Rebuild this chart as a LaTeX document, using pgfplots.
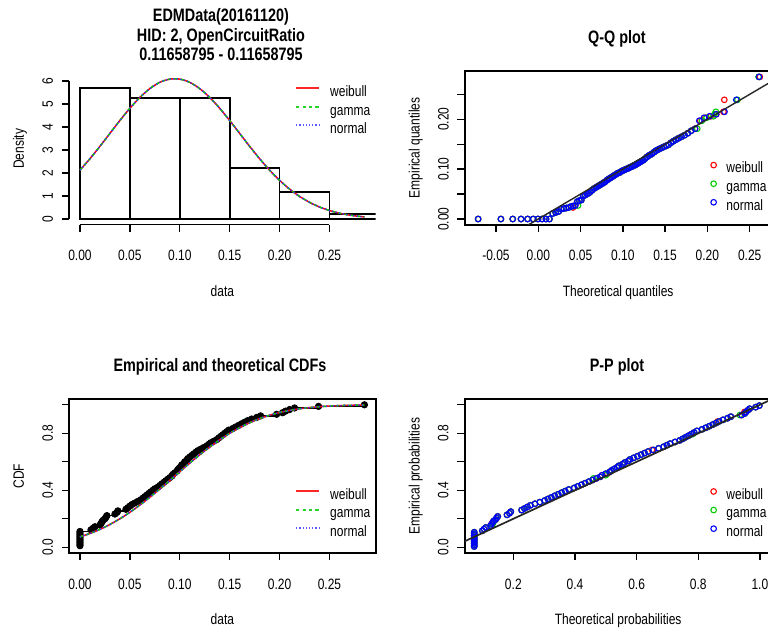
\documentclass[border=0pt]{standalone}
\usepackage{fontspec}
\setmainfont{Liberation Sans}[FakeStretch=0.8]
\usepackage{pgfplots}
\usepackage{pgfplotstable}
\pgfplotsset{compat=1.18}

\definecolor{rred}{HTML}{FF0000}
\definecolor{rgreen}{HTML}{00CD00}
\definecolor{rblue}{HTML}{0000FF}

% sorted sample, ECDF, plotting positions, theoretical quantiles and probabilities
\pgfplotstableread{
i x ecdf pe qn qw qg pp ppw ppg
1 0 0.0111 0.0056 -0.0711 -0.0711 -0.0711 0.0732 0.0732 0.0732
2 0 0.0222 0.0167 -0.0442 -0.0442 -0.0442 0.0732 0.0732 0.0732
3 0 0.0333 0.0278 -0.0302 -0.0302 -0.0302 0.0732 0.0732 0.0732
4 0 0.0444 0.0389 -0.0204 -0.0204 -0.0204 0.0732 0.0732 0.0732
5 0 0.0556 0.0500 -0.0126 -0.0126 -0.0126 0.0732 0.0732 0.0732
6 0 0.0667 0.0611 -0.0060 -0.0060 -0.0060 0.0732 0.0732 0.0732
7 0 0.0778 0.0722 -0.0004 -0.0004 -0.0004 0.0732 0.0732 0.0732
8 0 0.0889 0.0833 0.0046 0.0046 0.0046 0.0732 0.0732 0.0732
9 0 0.1000 0.0944 0.0091 0.0091 0.0091 0.0732 0.0732 0.0732
10 0 0.1111 0.1056 0.0132 0.0132 0.0132 0.0732 0.0732 0.0732
11 0.011 0.1222 0.1167 0.0170 0.0170 0.0170 0.0995 0.0995 0.0995
12 0.013 0.1333 0.1278 0.0206 0.0206 0.0206 0.1050 0.1050 0.1050
13 0.015 0.1444 0.1389 0.0240 0.0240 0.0240 0.1106 0.1106 0.1106
14 0.020 0.1556 0.1500 0.0272 0.0272 0.0272 0.1257 0.1257 0.1290
15 0.021 0.1667 0.1611 0.0303 0.0303 0.0303 0.1289 0.1289 0.1320
16 0.022 0.1778 0.1722 0.0331 0.0331 0.0331 0.1322 0.1322 0.1350
17 0.023 0.1889 0.1833 0.0359 0.0410 0.0359 0.1355 0.1355 0.1355
18 0.025 0.2000 0.1944 0.0386 0.0386 0.0386 0.1422 0.1422 0.1422
19 0.026 0.2111 0.2056 0.0412 0.0412 0.0412 0.1457 0.1457 0.1457
20 0.027 0.2222 0.2167 0.0437 0.0437 0.0470 0.1492 0.1492 0.1492
21 0.035 0.2333 0.2278 0.0462 0.0462 0.0462 0.1795 0.1795 0.1795
22 0.037 0.2444 0.2389 0.0486 0.0486 0.0486 0.1876 0.1876 0.1876
23 0.038 0.2556 0.2500 0.0509 0.0509 0.0509 0.1917 0.1917 0.1917
24 0.046 0.2667 0.2611 0.0531 0.0531 0.0531 0.2269 0.2269 0.2269
25 0.048 0.2778 0.2722 0.0554 0.0554 0.0554 0.2362 0.2362 0.2362
26 0.050 0.2889 0.2833 0.0575 0.0575 0.0575 0.2457 0.2457 0.2457
27 0.052 0.3000 0.2944 0.0596 0.0596 0.0596 0.2554 0.2554 0.2554
28 0.055 0.3111 0.3056 0.0618 0.0618 0.0618 0.2704 0.2704 0.2704
29 0.058 0.3222 0.3167 0.0638 0.0638 0.0638 0.2858 0.2858 0.2858
30 0.061 0.3333 0.3278 0.0658 0.0658 0.0658 0.3016 0.3016 0.3016
31 0.063 0.3444 0.3389 0.0679 0.0679 0.0679 0.3123 0.3123 0.3123
32 0.065 0.3556 0.3500 0.0698 0.0698 0.0698 0.3232 0.3232 0.3232
33 0.067 0.3667 0.3611 0.0718 0.0718 0.0718 0.3343 0.3343 0.3343
34 0.069 0.3778 0.3722 0.0737 0.0737 0.0737 0.3455 0.3455 0.3455
35 0.071 0.3889 0.3833 0.0756 0.0756 0.0756 0.3568 0.3568 0.3568
36 0.073 0.4000 0.3944 0.0775 0.0775 0.0775 0.3683 0.3683 0.3683
37 0.075 0.4111 0.4056 0.0793 0.0793 0.0793 0.3799 0.3799 0.3799
38 0.078 0.4222 0.4167 0.0813 0.0813 0.0813 0.3975 0.3975 0.3975
39 0.080 0.4333 0.4278 0.0831 0.0831 0.0831 0.4093 0.4093 0.4093
40 0.082 0.4444 0.4389 0.0849 0.0849 0.0849 0.4212 0.4212 0.4212
41 0.084 0.4556 0.4500 0.0868 0.0868 0.0868 0.4332 0.4332 0.4332
42 0.086 0.4667 0.4611 0.0886 0.0886 0.0886 0.4453 0.4453 0.4453
43 0.088 0.4778 0.4722 0.0904 0.0904 0.0904 0.4574 0.4574 0.4574
44 0.090 0.4889 0.4833 0.0923 0.0923 0.0923 0.4695 0.4695 0.4600
45 0.092 0.5000 0.4944 0.0941 0.0941 0.0941 0.4817 0.4817 0.4817
46 0.093 0.5111 0.5056 0.0959 0.0959 0.0959 0.4878 0.4878 0.5000
47 0.095 0.5222 0.5167 0.0977 0.0977 0.0977 0.5000 0.5050 0.5000
48 0.097 0.5333 0.5278 0.0996 0.0996 0.0996 0.5122 0.5122 0.5122
49 0.098 0.5444 0.5389 0.1014 0.1014 0.1014 0.5183 0.5183 0.5183
50 0.0995 0.5556 0.5500 0.1032 0.1032 0.1032 0.5274 0.5274 0.5274
51 0.101 0.5667 0.5611 0.1051 0.1051 0.1051 0.5365 0.5365 0.5365
52 0.102 0.5778 0.5722 0.1069 0.1069 0.1069 0.5426 0.5426 0.5426
53 0.104 0.5889 0.5833 0.1087 0.1087 0.1087 0.5547 0.5547 0.5547
54 0.105 0.6000 0.5944 0.1107 0.1107 0.1107 0.5608 0.5608 0.5608
55 0.107 0.6111 0.6056 0.1125 0.1125 0.1125 0.5728 0.5728 0.5728
56 0.108 0.6222 0.6167 0.1144 0.1144 0.1144 0.5788 0.5788 0.5788
57 0.110 0.6333 0.6278 0.1163 0.1163 0.1163 0.5907 0.5907 0.5907
58 0.112 0.6444 0.6389 0.1182 0.1182 0.1182 0.6025 0.6025 0.6025
59 0.114 0.6556 0.6500 0.1202 0.1202 0.1202 0.6143 0.6143 0.6143
60 0.116 0.6667 0.6611 0.1221 0.1221 0.1221 0.6259 0.6259 0.6259
61 0.118 0.6778 0.6722 0.1242 0.1242 0.1242 0.6375 0.6375 0.6375
62 0.121 0.6889 0.6833 0.1262 0.1262 0.1262 0.6545 0.6500 0.6545
63 0.124 0.7000 0.6944 0.1282 0.1282 0.1282 0.6713 0.6713 0.6713
64 0.127 0.7111 0.7056 0.1304 0.1304 0.1304 0.6877 0.6877 0.6877
65 0.129 0.7222 0.7167 0.1325 0.1325 0.1325 0.6984 0.6984 0.6984
66 0.131 0.7333 0.7278 0.1346 0.1346 0.1346 0.7090 0.7090 0.7090
67 0.134 0.7444 0.7389 0.1369 0.1369 0.1369 0.7245 0.7245 0.7245
68 0.137 0.7556 0.7500 0.1391 0.1391 0.1391 0.7396 0.7396 0.7396
69 0.139 0.7667 0.7611 0.1414 0.1414 0.1414 0.7495 0.7495 0.7495
70 0.141 0.7778 0.7722 0.1438 0.1438 0.1438 0.7591 0.7591 0.7591
71 0.143 0.7889 0.7833 0.1463 0.1463 0.1463 0.7685 0.7685 0.7685
72 0.145 0.8000 0.7944 0.1488 0.1488 0.1488 0.7777 0.7777 0.7820
73 0.147 0.8111 0.8056 0.1514 0.1514 0.1514 0.7867 0.7867 0.7867
74 0.149 0.8222 0.8167 0.1541 0.1541 0.1541 0.7955 0.7955 0.7955
75 0.153 0.8333 0.8278 0.1569 0.1569 0.1569 0.8124 0.8124 0.8124
76 0.156 0.8444 0.8389 0.1597 0.1597 0.1597 0.8245 0.8245 0.8245
77 0.159 0.8556 0.8500 0.1628 0.1628 0.1628 0.8361 0.8361 0.8361
78 0.162 0.8667 0.8611 0.1660 0.1660 0.1660 0.8472 0.8472 0.8472
79 0.165 0.8778 0.8722 0.1694 0.1694 0.1694 0.8578 0.8578 0.8578
80 0.168 0.8889 0.8833 0.1730 0.1730 0.1730 0.8678 0.8630 0.8678
81 0.172 0.9000 0.8944 0.1768 0.1768 0.1768 0.8805 0.8805 0.8805
82 0.177 0.9111 0.9056 0.1809 0.1809 0.1809 0.8950 0.8950 0.8950
83 0.181 0.9222 0.9167 0.1854 0.1854 0.1880 0.9058 0.9058 0.9058
84 0.197 0.9333 0.9278 0.1904 0.1915 0.1935 0.9406 0.9406 0.9350
85 0.203 0.9444 0.9389 0.1960 0.1975 0.1990 0.9507 0.9507 0.9507
86 0.206 0.9556 0.9500 0.2026 0.2040 0.2070 0.9552 0.9500 0.9552
87 0.210 0.9667 0.9611 0.2104 0.2104 0.2085 0.9607 0.9607 0.9607
88 0.215 0.9778 0.9722 0.2202 0.2190 0.2100 0.9667 0.9667 0.9667
89 0.239 0.9889 0.9833 0.2342 0.2200 0.2355 0.9862 0.9862 0.9862
90 0.285 1.0000 0.9944 0.2611 0.2620 0.2605 0.9982 0.9982 0.9982
}\sample

% fitted density and CDF (the three fits coincide)
\pgfplotstableread{
x dens cdf
0 2.124 0.0732
0.01 2.621 0.0969
0.02 3.160 0.1257
0.03 3.722 0.1601
0.04 4.283 0.2002
0.05 4.814 0.2457
0.06 5.286 0.2963
0.07 5.670 0.3511
0.08 5.942 0.4093
0.09 6.082 0.4695
0.10 6.082 0.5305
0.11 5.942 0.5907
0.12 5.670 0.6489
0.13 5.286 0.7037
0.14 4.814 0.7543
0.15 4.283 0.7998
0.16 3.722 0.8399
0.17 3.160 0.8743
0.18 2.621 0.9031
0.19 2.124 0.9268
0.20 1.681 0.9458
0.21 1.300 0.9607
0.22 0.982 0.9720
0.23 0.725 0.9805
0.24 0.522 0.9867
0.25 0.368 0.9911
0.26 0.253 0.9942
0.27 0.170 0.9963
0.28 0.112 0.9977
0.285 0.090 0.9982
}\fit

\newcommand{\rfont}{\fontsize{7.5}{9}\selectfont}
\newcommand{\tfont}{\bfseries\fontsize{9}{10}\selectfont}

\pgfplotsset{
  rstyle/.style={
    scale only axis,
    anchor=south west,
    clip mode=individual,
    axis line style={black, line width=0.85pt},
    tick style={black, line width=0.7pt},
    tick align=outside,
    major tick length=3.6pt,
    xtick pos=bottom, ytick pos=left,
    every tick label/.append style={font=\rfont, text=black},
    xticklabel style={anchor=base, yshift=-14.5pt},
    yticklabel style={xshift=-4.5pt, rotate=90, anchor=base},
    every axis x label/.style={at={(axis description cs:0.5,0)}, anchor=base, yshift=-36pt, font=\rfont},
    every axis y label/.style={at={(axis description cs:0,0.5)}, xshift=-22.5pt, rotate=90, anchor=base, font=\rfont},
    legend cell align=left,
    legend style={draw=none, fill=none, anchor=north west, inner sep=0pt, outer sep=0pt,
      row sep=2.2pt, column sep=5pt,
      nodes={inner sep=0pt, text height=5.5pt, text depth=1.6pt, font=\rfont}},
  },
  lineleg/.style={legend image code/.code={\draw[##1] (0pt,2.25pt) -- (11.5pt,2.25pt);}},
  markleg/.style={legend image code/.code={\draw[##1] plot coordinates {(1.5pt,2pt)};}},
  wline/.style={draw=rred, line width=0.75pt, smooth},
  gline/.style={draw=rgreen, line width=0.75pt, smooth, dash pattern=on 1.6pt off 1.6pt},
  nline/.style={draw=rblue!80, line width=0.75pt, smooth, dash pattern=on 0.6pt off 1.2pt},
  wleg/.style={draw=rred!85, line width=1.1pt},
  gleg/.style={draw=rgreen!85, line width=1.0pt, dash pattern=on 1.6pt off 1.6pt},
  nleg/.style={draw=rblue!65, line width=1.0pt, dash pattern=on 0.6pt off 1.0pt},
}

\begin{document}
\begin{tikzpicture}
\useasboundingbox (0,0) rectangle (384pt,316pt);
\clip (0,0) rectangle (384pt,316pt);

% ---------------- histogram + densities ----------------
\begin{axis}[rstyle, lineleg,
  at={(34.5pt,203.7pt)}, width=153.35pt, height=75.75pt,
  xmin=-0.011, xmax=0.2963, ymin=-0.244, ymax=6.344,
  axis line style={draw=none},
  xtick={0,0.05,0.1,0.15,0.2,0.25}, xticklabels={0.00,0.05,0.10,0.15,0.20,0.25},
  ytick={0,1,2,3,4,5,6}, yticklabels={0,1,2,3,4,5,6},
  xlabel={data}, ylabel={Density},
  legend style={at={(0.737,0.9175)}}]
\addplot[ybar interval, draw=black, fill=none, line width=0.9pt, forget plot]
  coordinates {(0,5.68) (0.05,5.27) (0.1,5.27) (0.15,2.23) (0.2,1.17) (0.25,0.2) (0.3,0.2)};
\addplot[wline, forget plot] table[x=x, y=dens]{\fit};
\addplot[gline, forget plot] table[x=x, y=dens]{\fit};
\addplot[nline, forget plot] table[x=x, y=dens]{\fit};
\addlegendimage{wleg}\addlegendentry{weibull}
\addlegendimage{gleg}\addlegendentry{gamma}
\addlegendimage{nleg}\addlegendentry{normal}
\draw[black, line width=0.85pt] (axis cs:0,-0.244) -- (axis cs:0.25,-0.244);
\draw[black, line width=0.85pt] (axis cs:-0.011,0) -- (axis cs:-0.011,6);
\end{axis}

% ---------------- Q-Q plot ----------------
\begin{axis}[rstyle, markleg,
  at={(232.35pt,203.65pt)}, width=153.45pt, height=76.75pt,
  xmin=-0.087, xmax=0.2759, ymin=-0.0114, ymax=0.2964,
  xtick={-0.05,0,0.05,0.1,0.15,0.2,0.25}, xticklabels={-0.05,0.00,0.05,0.10,0.15,0.20,0.25},
  ytick={0,0.05,0.1,0.15,0.2,0.25}, yticklabels={0.00,,0.10,,0.20,},
  xlabel={Theoretical quantiles}, ylabel={Empirical quantiles},
  legend style={at={(0.802,0.4085)}}]
\addplot[rred, only marks, mark=o, mark size=1.4pt, line width=0.55pt] table[x=qw, y=x]{\sample};
\addlegendentry{weibull}
\addplot[rgreen, only marks, mark=o, mark size=1.4pt, line width=0.55pt] table[x=qg, y=x]{\sample};
\addlegendentry{gamma}
\addplot[rblue, only marks, mark=o, mark size=1.4pt, line width=0.55pt] table[x=qn, y=x]{\sample};
\addlegendentry{normal}
\addplot[black!85, line width=0.7pt, forget plot] coordinates {(-0.1,-0.1) (0.3,0.3)};
\end{axis}

% ---------------- CDFs ----------------
\begin{axis}[rstyle, lineleg,
  at={(34.5pt,39.5pt)}, width=153.35pt, height=76.95pt,
  xmin=-0.011, xmax=0.2963, ymin=-0.04, ymax=1.04,
  xtick={0,0.05,0.1,0.15,0.2,0.25}, xticklabels={0.00,0.05,0.10,0.15,0.20,0.25},
  ytick={0,0.2,0.4,0.6,0.8,1}, yticklabels={0.0,,0.4,,0.8,},
  xlabel={data}, ylabel={CDF},
  legend style={at={(0.737,0.42)}}]
\addplot[black, const plot, line width=0.7pt, forget plot] table[x=x, y=ecdf]{\sample};
\addplot[black, only marks, mark=*, mark size=1.6pt, forget plot] table[x=x, y=ecdf]{\sample};
\addplot[wline, forget plot] table[x=x, y=cdf]{\fit};
\addplot[gline, forget plot] table[x=x, y=cdf]{\fit};
\addplot[nline, forget plot] table[x=x, y=cdf]{\fit};
\addlegendimage{wleg}\addlegendentry{weibull}
\addlegendimage{gleg}\addlegendentry{gamma}
\addlegendimage{nleg}\addlegendentry{normal}
\end{axis}

% ---------------- P-P plot ----------------
\begin{axis}[rstyle, markleg,
  at={(232.35pt,39.5pt)}, width=153.45pt, height=76.95pt,
  xmin=0.0422, xmax=1.038, ymin=-0.04, ymax=1.04,
  xtick={0.2,0.4,0.6,0.8,1}, xticklabels={0.2,0.4,0.6,0.8,1.0},
  ytick={0,0.2,0.4,0.6,0.8,1}, yticklabels={0.0,,0.4,,0.8,},
  xlabel={Theoretical probabilities}, ylabel={Empirical probabilities},
  legend style={at={(0.802,0.42)}}]
\addplot[rred, only marks, mark=o, mark size=1.4pt, line width=0.55pt] table[x=ppw, y=pe]{\sample};
\addlegendentry{weibull}
\addplot[rgreen, only marks, mark=o, mark size=1.4pt, line width=0.55pt] table[x=ppg, y=pe]{\sample};
\addlegendentry{gamma}
\addplot[rblue, only marks, mark=o, mark size=1.4pt, line width=0.55pt] table[x=pp, y=pe]{\sample};
\addlegendentry{normal}
\addplot[black!85, line width=0.85pt, forget plot] coordinates {(0,0) (1.1,1.1)};
\end{axis}

% ---------------- titles ----------------
\node[font=\tfont, anchor=base] at (110.5pt,305pt) {EDMData(20161120)};
\node[font=\tfont, anchor=base] at (110.5pt,295.3pt) {HID: 2, OpenCircuitRatio};
\node[font=\tfont, anchor=base] at (110.5pt,285.6pt) {0.11658795 - 0.11658795};
\node[font=\tfont, anchor=base] at (308.5pt,294pt) {Q-Q plot};
\node[font=\tfont, anchor=base] at (110pt,130pt) {Empirical and theoretical CDFs};
\node[font=\tfont, anchor=base] at (308.5pt,130pt) {P-P plot};
\end{tikzpicture}
\end{document}
